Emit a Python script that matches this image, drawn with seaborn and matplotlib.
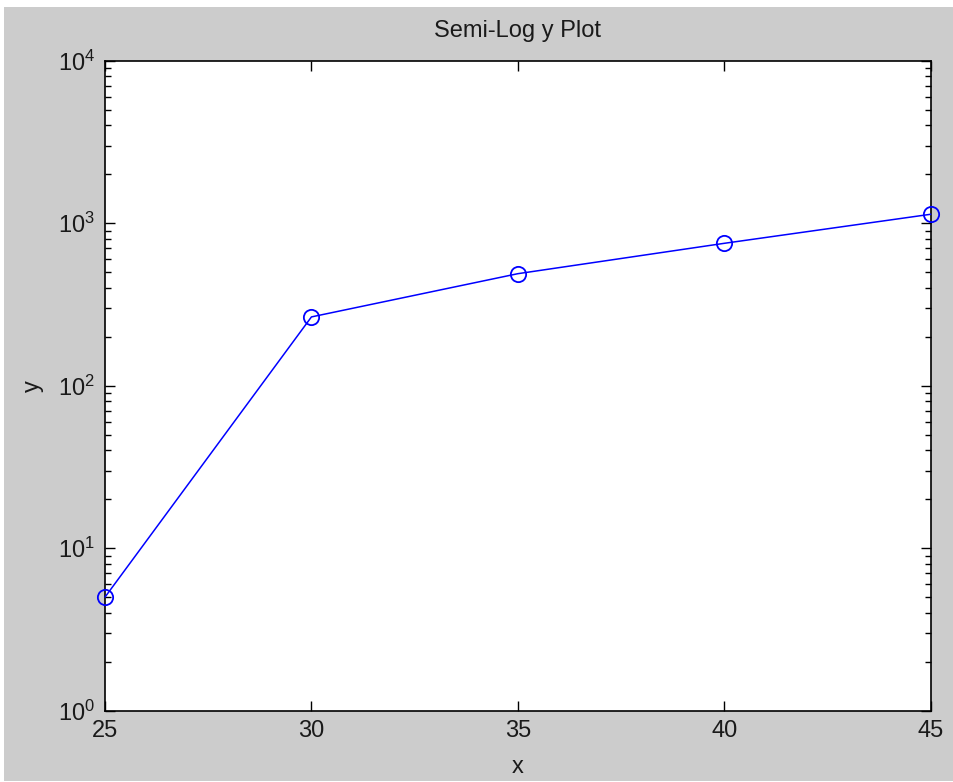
import matplotlib
matplotlib.use("Agg")
import matplotlib.pyplot as plt
import matplotlib.ticker as mticker
from matplotlib.patches import Rectangle
import seaborn as sns
import pandas as pd

x_values = [25, 30, 35, 40, 45]
y_values = [5.0, 265, 489, 752, 1135]
x_ticks = [25, 30, 35, 40, 45]
title = "Semi-Log y Plot"
xlabel = "x"
ylabel = "y"

sns.set_theme(style="white")
plt.rcParams['font.family'] = ['Liberation Sans', 'DejaVu Sans']
plt.rcParams['mathtext.fontset'] = 'custom'
plt.rcParams['mathtext.rm'] = 'Liberation Sans'
plt.rcParams['mathtext.it'] = 'Liberation Sans'

fig = plt.figure(figsize=(9.54, 7.82), dpi=100, facecolor='white')
fig.patches.append(Rectangle((4/954, 1/782), 950/954, 774/782, transform=fig.transFigure,
                             facecolor='#cccccc', edgecolor='none', zorder=-10))
ax = fig.add_axes([105/954, (782-710.7)/782, (930.7-105)/954, (710.7-60.7)/782])
ax.set_facecolor('white')

df = pd.DataFrame({"x": x_values, "y": y_values})
sns.lineplot(data=df, x="x", y="y", ax=ax, color='#0000ff', linewidth=1.1,
             marker='o', markersize=11, markerfacecolor='none',
             markeredgecolor='#0000ff', markeredgewidth=1.3, clip_on=False, zorder=5)

ax.set_yscale('log')
ax.set_ylim(1, 1e4)
ax.set_xlim(25, 45)
ax.set_xticks(x_ticks)
ax.xaxis.set_major_formatter(mticker.FormatStrFormatter('%d'))
ax.yaxis.set_major_locator(mticker.LogLocator(base=10, numticks=10))
ax.yaxis.set_minor_locator(mticker.LogLocator(base=10, subs=range(2, 10), numticks=10))
ax.yaxis.set_minor_formatter(mticker.NullFormatter())

for s in ax.spines.values():
    s.set_color('black')
    s.set_linewidth(1.2)
    s.set_visible(True)

ax.tick_params(which='major', direction='in', length=7, width=1, color='black',
               top=True, right=True, bottom=True, left=True, labelsize=17, pad=7,
               labelcolor='#1a1a1a')
ax.tick_params(which='minor', direction='in', length=4, width=1, color='black',
               left=True, right=True)
ax.tick_params(axis='x', which='minor', bottom=False, top=False)

ax.set_title(title, fontsize=17, color='#1a1a1a', pad=17)
ax.set_xlabel(xlabel, fontsize=17, color='#1a1a1a', labelpad=10)
ax.set_ylabel(ylabel, fontsize=17, color='#1a1a1a', labelpad=10)

fig.savefig("out.png", dpi=100, facecolor=fig.get_facecolor())
